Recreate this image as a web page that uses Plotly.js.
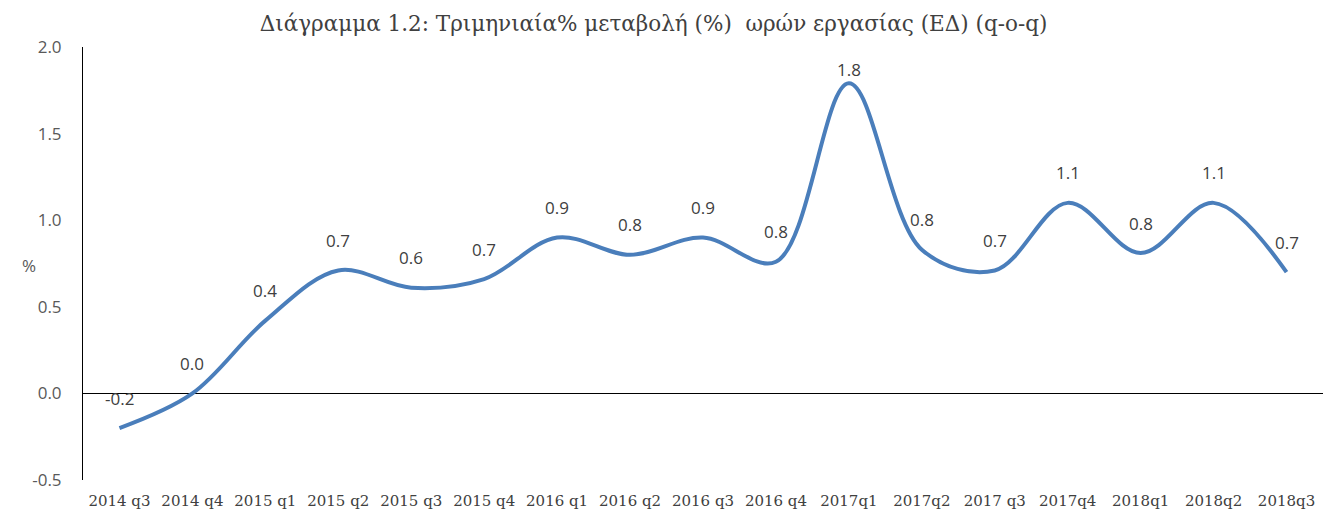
<!DOCTYPE html>
<html>
<head>
<meta charset="utf-8">
<script src="https://cdn.plot.ly/plotly-3.0.1.min.js"></script>
<style>
  html, body { margin: 0; padding: 0; background: #fff; }
  #plot { width: 1323px; height: 516px; }
</style>
</head>
<body>
<div id="plot"></div>
<script>
// Quarters on the x axis
var quarters = ["2014 q3", "2014 q4", "2015 q1", "2015 q2", "2015 q3", "2015 q4",
                "2016 q1", "2016 q2", "2016 q3", "2016 q4", "2017q1", "2017q2",
                "2017 q3", "2017q4", "2018q1", "2018q2", "2018q3"];

// q-o-q % change of hours worked
var change = [-0.2, 0.0, 0.42, 0.71, 0.61, 0.66, 0.90, 0.80, 0.90, 0.76,
              1.79, 0.83, 0.71, 1.10, 0.81, 1.10, 0.70];

var yTicks = [-0.5, 0.0, 0.5, 1.0, 1.5, 2.0];

var serif = "'DejaVu Serif', 'Liberation Serif', serif";
var sans = "'Open Sans', 'Liberation Sans', sans-serif";

var trace1 = {
    x: quarters,
    y: change,
    type: "scatter",
    mode: "lines",
    line: { color: "#4a7ebb", width: 4, shape: "spline", smoothing: 1 },
    hoverinfo: "x+y"
};

// data labels above each point
var labels = quarters.map(function(q, i) {
    return {
        x: q,
        y: change[i],
        xref: "x",
        yref: "y",
        text: change[i].toFixed(1),
        showarrow: false,
        yshift: i == 10 ? 14 : 30,
        font: { family: sans, size: 17, color: "#404040" }
    };
});

// the "%" axis label sits horizontally left of the axis
labels.push({
    x: -0.051,
    y: 0.74,
    xref: "paper",
    yref: "y",
    text: "%",
    showarrow: false,
    font: { family: sans, size: 17, color: "#595959" }
});

var layout = {
    width: 1323,
    height: 516,
    paper_bgcolor: "#ffffff",
    plot_bgcolor: "#ffffff",
    showlegend: false,
    title: {
        text: "Διάγραμμα 1.2: Τριμηνιαία% μεταβολή (%)  ωρών εργασίας (ΕΔ) (q-o-q)",
        font: { family: serif, size: 21.5, color: "#404040" },
        x: 0.494,
        xanchor: "center",
        y: 0.955,
        yanchor: "middle"
    },
    margin: { l: 83, r: 0, t: 47, b: 36 },
    xaxis: {
        type: "category",
        range: [-0.5, 16.5],
        showgrid: false,
        showline: false,
        zeroline: false,
        ticks: "",
        tickangle: 0,
        ticklabelstandoff: 10,
        tickfont: { family: serif, size: 15, color: "#404040" }
    },
    yaxis: {
        range: [-0.5, 2.0],
        tickvals: yTicks,
        ticktext: yTicks.map(function(v) { return v.toFixed(1); }),
        showgrid: false,
        showline: true,
        linecolor: "#000000",
        linewidth: 1,
        zeroline: true,
        zerolinecolor: "#000000",
        zerolinewidth: 1,
        ticks: "",
        ticklabelstandoff: 17,
        tickfont: { family: sans, size: 17, color: "#595959" }
    },
    annotations: labels
};

Plotly.newPlot("plot", [trace1], layout, { displayModeBar: false, staticPlot: true });
</script>
</body>
</html>
